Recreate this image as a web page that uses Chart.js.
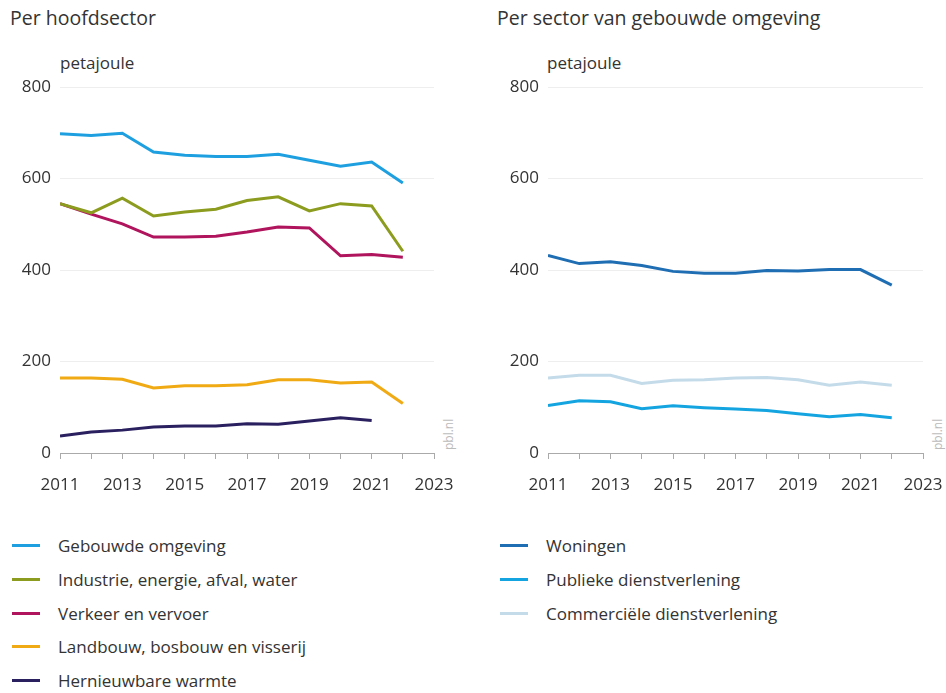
<!DOCTYPE html>
<html>
<head>
<meta charset="utf-8">
<script src="https://cdn.jsdelivr.net/npm/chart.js@4"></script>
<style>
  body { margin: 0; width: 946px; height: 693px; background: #fff; position: relative; overflow: hidden;
         font-family: "Open Sans", sans-serif; color: #333; }
  .titel { position: absolute; top: 4px; font-size: 19.5px; }
  .eenheid { position: absolute; top: 51px; font-size: 17px; }
  .bron { position: absolute; font-size: 12px; color: #bbb; transform: rotate(-90deg); transform-origin: left top; }
  .legenda { position: absolute; top: 529px; font-size: 17px; }
  .legenda div { height: 33.7px; display: flex; align-items: center; }
  .legenda span.lijn { display: inline-block; width: 28px; height: 3px; margin-right: 18px; }
  canvas { position: absolute; }
</style>
</head>
<body>
<div class="titel" style="left:10px">Per hoofdsector</div>
<div class="titel" style="left:497px">Per sector van gebouwde omgeving</div>
<div class="eenheid" style="left:60px">petajoule</div>
<div class="eenheid" style="left:547px">petajoule</div>
<div class="bron" style="left:440px; top:450px">pbl.nl</div>
<div class="bron" style="left:929px; top:450px">pbl.nl</div>

<div style="position:absolute; left:0; top:70px; width:470px; height:429px">
  <canvas id="links"></canvas>
</div>
<div style="position:absolute; left:487px; top:70px; width:459px; height:429px">
  <canvas id="rechts"></canvas>
</div>
<div class="legenda" id="legendaLinks" style="left:12px"></div>
<div class="legenda" id="legendaRechts" style="left:500px"></div>

<script>
// jaren en waarden (petajoule)
const jaren = [2011, 2012, 2013, 2014, 2015, 2016, 2017, 2018, 2019, 2020, 2021, 2022];

const gebouwdeOmgeving = [698, 694, 699, 658, 651, 648, 648, 653, 640, 627, 636, 590];
const industrie        = [545, 525, 557, 518, 527, 533, 552, 560, 529, 545, 540, 441];
const verkeer          = [545, 522, 501, 472, 472, 474, 483, 494, 492, 431, 434, 428];
const landbouw         = [164, 164, 161, 142, 147, 147, 149, 160, 160, 153, 155, 108];
const hernieuwbaar     = [37, 46, 50, 57, 59, 59, 64, 63, 70, 77, 71];

const woningen   = [432, 414, 418, 410, 397, 393, 393, 399, 398, 401, 401, 367];
const publiek    = [104, 114, 112, 97, 103, 99, 96, 93, 86, 79, 84, 77];
const commercieel = [164, 170, 170, 152, 159, 160, 164, 165, 160, 148, 155, 148];

const yTicks = [0, 200, 400, 600, 800];

function punten(waarden) {
    return waarden.map((v, i) => ({ x: jaren[i], y: v }));
}

function reeks(label, waarden, kleur) {
    return {
        label: label,
        data: punten(waarden),
        borderColor: kleur,
        backgroundColor: kleur,
        borderWidth: 3,
        pointRadius: 0,
        tension: 0
    };
}

function opties(yBreedte, rechtsPad) {
    return {
        responsive: true,
        maintainAspectRatio: false,
        animation: false,
        layout: { padding: { left: 0, right: rechtsPad, top: 17, bottom: 0 } },
        plugins: { legend: { display: false }, tooltip: { enabled: false } },
        scales: {
            x: {
                type: 'linear',
                min: 2011,
                max: 2023,
                afterFit: (s) => {
                    s.height = 46;
                    s.paddingLeft = 0;
                    s.paddingRight = 0;
                },
                border: { display: true, color: '#aaa' },
                grid: { drawOnChartArea: false, drawTicks: true, tickLength: 6, color: '#aaa' },
                ticks: {
                    stepSize: 1,
                    autoSkip: false,
                    maxRotation: 0,
                    padding: 16,
                    color: '#333',
                    font: { family: 'Open Sans', size: 17 },
                    callback: (v) => (v % 2 === 1 ? String(v) : '')
                }
            },
            y: {
                min: 0,
                max: 800,
                afterFit: (s) => {
                    s.width = yBreedte;
                    s.paddingTop = 0;
                    s.paddingBottom = 0;
                },
                afterBuildTicks: (s) => { s.ticks = yTicks.map(v => ({ value: v })); },
                border: { display: false },
                grid: { color: '#eeeeee', drawTicks: false },
                ticks: {
                    padding: 9,
                    color: '#333',
                    font: { family: 'Open Sans', size: 17 }
                }
            }
        }
    };
}

const links = new Chart(document.getElementById('links'), {
    type: 'line',
    data: {
        datasets: [
            reeks('Gebouwde omgeving', gebouwdeOmgeving, '#1ea0e0'),
            reeks('Industrie, energie, afval, water', industrie, '#8c9c1e'),
            reeks('Verkeer en vervoer', verkeer, '#b0145c'),
            reeks('Landbouw, bosbouw en visserij', landbouw, '#f0aa14'),
            reeks('Hernieuwbare warmte', hernieuwbaar, '#2a2060')
        ]
    },
    options: opties(60, 36)
});

const rechts = new Chart(document.getElementById('rechts'), {
    type: 'line',
    data: {
        datasets: [
            reeks('Woningen', woningen, '#1f6eb4'),
            reeks('Publieke dienstverlening', publiek, '#14a5e1'),
            reeks('Commerciële dienstverlening', commercieel, '#c4dbea')
        ]
    },
    options: opties(61, 23)
});

// legenda zelf bouwen: verticale lijst onder elke grafiek
function legenda(chart, id) {
    const el = document.getElementById(id);
    chart.data.datasets.forEach(ds => {
        const rij = document.createElement('div');
        const lijn = document.createElement('span');
        lijn.className = 'lijn';
        lijn.style.background = ds.borderColor;
        rij.appendChild(lijn);
        rij.appendChild(document.createTextNode(ds.label));
        el.appendChild(rij);
    });
}
legenda(links, 'legendaLinks');
legenda(rechts, 'legendaRechts');
</script>
</body>
</html>
